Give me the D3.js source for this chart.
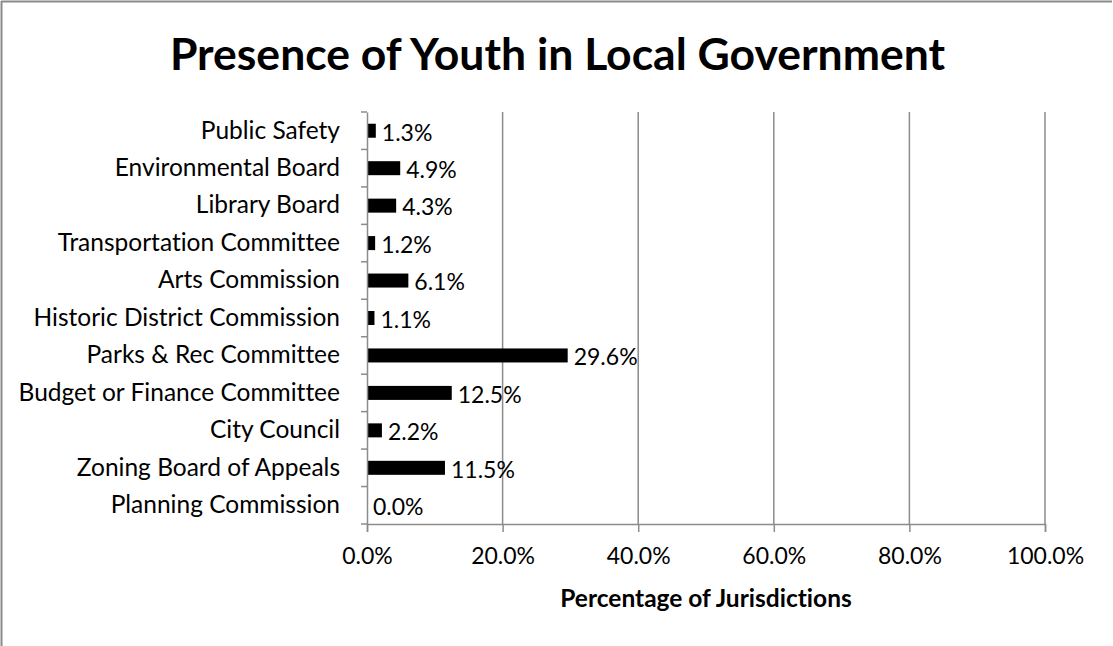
<!DOCTYPE html>
<html>
<head>
<meta charset="utf-8">
<script src="https://cdn.jsdelivr.net/npm/d3@7"></script>
<style>
  html, body { margin: 0; padding: 0; background: #fff; }
  svg { display: block; }
  text { font-family: Lato, "Open Sans", sans-serif; fill: #000; font-variant-ligatures: none; font-feature-settings: "liga" 0, "clig" 0; }
</style>
</head>
<body>
<svg id="chart" width="1113" height="646"></svg>
<script>
// Committees, listed top to bottom
const categories = [
  "Public Safety",
  "Environmental Board",
  "Library Board",
  "Transportation Committee",
  "Arts Commission",
  "Historic District Commission",
  "Parks & Rec Committee",
  "Budget or Finance Committee",
  "City Council",
  "Zoning Board of Appeals",
  "Planning Commission"
];
// Share of jurisdictions with youth members (%)
const values = [1.3, 4.9, 4.3, 1.2, 6.1, 1.1, 29.6, 12.5, 2.2, 11.5, 0.0];
const xTicks = [0, 20, 40, 60, 80, 100];
const titleText = "Presence of Youth in Local Government";
const xAxisTitle = "Percentage of Jurisdictions";

const W = 1113, H = 646;
const margin = { left: 367, right: 68, top: 112, bottom: 122 };
const svg = d3.select("#chart");

// outer frame
svg.append("line").attr("x1", 1).attr("x2", W - 1).attr("y1", 1.5).attr("y2", 1.5)
  .attr("stroke", "#8a8a8a").attr("stroke-width", 2);
svg.append("line").attr("x1", 1.5).attr("x2", 1.5).attr("y1", 1).attr("y2", H)
  .attr("stroke", "#8a8a8a").attr("stroke-width", 2);

const x = d3.scaleLinear().domain([0, 100]).range([margin.left, W - margin.right]);
const y = d3.scaleBand().domain(categories).range([margin.top, H - margin.bottom]).paddingInner(0).paddingOuter(0);
const barH = 14;

// title
svg.append("text").attr("x", W / 2 + 1).attr("y", 70).attr("text-anchor", "middle")
  .attr("font-size", 44.5).attr("font-weight", "bold").text(titleText);

// vertical gridlines
svg.append("g").selectAll("line").data(xTicks.filter(t => t > 0)).join("line")
  .attr("x1", d => x(d)).attr("x2", d => x(d))
  .attr("y1", margin.top).attr("y2", H - margin.bottom)
  .attr("stroke", "#8c8c8c").attr("stroke-width", 1.5);

// bars
svg.append("g").selectAll("rect").data(values).join("rect")
  .attr("x", x(0))
  .attr("y", (d, i) => y(categories[i]) + y.bandwidth() / 2 - barH / 2)
  .attr("width", d => x(d) - x(0))
  .attr("height", barH)
  .attr("fill", "#000");

// value labels
svg.append("g").selectAll("text").data(values).join("text")
  .attr("x", d => x(d) + 6)
  .attr("y", (d, i) => y(categories[i]) + y.bandwidth() / 2 + 4)
  .attr("dominant-baseline", "middle")
  .attr("font-size", 23)
  .text(d => d.toFixed(1) + "%");

// x axis
const xAxis = d3.axisBottom(x).tickValues(xTicks).tickSize(8).tickPadding(16)
  .tickFormat(d => d.toFixed(1) + "%");
const gx = svg.append("g").attr("transform", `translate(0,${H - margin.bottom})`).call(xAxis);
gx.select(".domain").attr("stroke", "#8c8c8c").attr("stroke-width", 1.5);
gx.selectAll(".tick line").attr("stroke", "#8c8c8c").attr("stroke-width", 1.5);
gx.selectAll(".tick text").attr("font-size", 23).attr("font-family", "Lato, sans-serif").attr("fill", "#000");

// y axis
const yAxis = d3.axisLeft(y).tickSize(0).tickPadding(27);
const gy = svg.append("g").attr("transform", `translate(${x(0)},0)`).call(yAxis);
gy.select(".domain").attr("stroke", "#8c8c8c").attr("stroke-width", 1.5);
gy.selectAll(".tick text").attr("font-size", 24.5).attr("font-family", "Lato, sans-serif").attr("fill", "#000");
// category separator ticks
gy.append("g").selectAll("line").data(d3.range(categories.length + 1)).join("line")
  .attr("x1", -6).attr("x2", 0)
  .attr("y1", i => margin.top + i * y.step()).attr("y2", i => margin.top + i * y.step())
  .attr("stroke", "#8c8c8c").attr("stroke-width", 1.5);

// x axis title
svg.append("text").attr("x", (x(0) + x(100)) / 2).attr("y", 607).attr("text-anchor", "middle")
  .attr("font-size", 24.5).attr("font-weight", "bold").text(xAxisTitle);
</script>
</body>
</html>
